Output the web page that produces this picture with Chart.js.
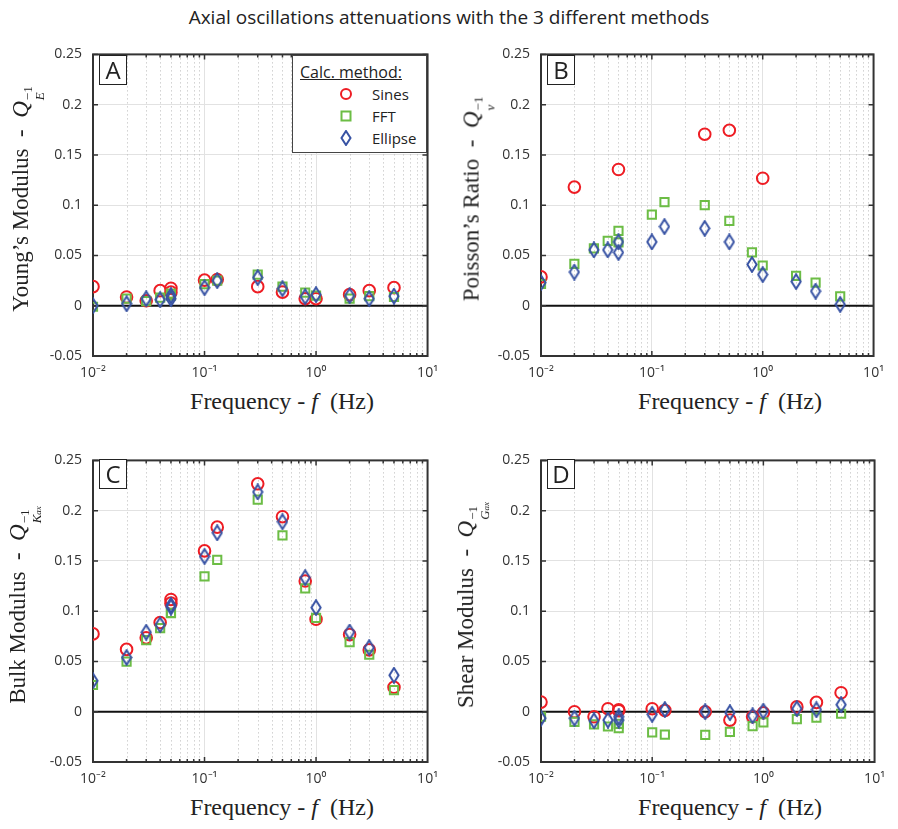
<!DOCTYPE html>
<html lang="en">
<head>
<meta charset="UTF-8">
<title>Axial oscillations attenuations</title>
<script src="https://cdn.jsdelivr.net/npm/chart.js"></script>
<style>
  body { margin: 0; background: #fff; }
  #fig { position: relative; width: 898px; height: 829px; overflow: hidden; font-family: "Open Sans", sans-serif; color: #222; }
  .pane { position: absolute; }
  .title { position: absolute; left: 0; width: 898px; top: 4px; text-align: center; font-size: 19px; }
  .ylab, .xlab { position: absolute; font-family: "Liberation Serif", "Times New Roman", serif; font-size: 23px; white-space: nowrap; line-height: 1; color: #222; }
  .ylab { transform: translate(-50%, -50%) rotate(-90deg); }
  .xlab { transform: translate(-50%, -50%); font-size: 24px; }
  .ss { display: inline-flex; flex-direction: column; font-size: 13px; line-height: 12px; vertical-align: -0.3em; margin-left: 1px; }
  .ss small { font-size: 9px; }
  .tag { position: absolute; width: 26px; height: 28px; border: 1.5px solid #222; background: #fff; font-size: 24px; line-height: 28px; text-align: center; }
  .legend { position: absolute; left: 292px; top: 55px; width: 133px; height: 96px; border: 1.5px solid #444; background: #fff; font-size: 15px; }
  .legend .hd { position: absolute; left: 7px; top: 5px; font-size: 16px; text-decoration: underline; }
  .legend .row { position: absolute; left: 46px; height: 20px; line-height: 20px; }
  .legend svg { position: absolute; left: 0; top: 3px; }
  .legend span { position: absolute; left: 33px; }
</style>
</head>
<body>
<div id="fig">
  <div class="title">Axial oscillations attenuations with the 3 different methods</div>

  <div class="pane" id="pA"><canvas id="cA"></canvas></div>
  <div class="pane" id="pB"><canvas id="cB"></canvas></div>
  <div class="pane" id="pC"><canvas id="cC"></canvas></div>
  <div class="pane" id="pD"><canvas id="cD"></canvas></div>

  <div class="ylab" style="left:27px; top:199px;">Young’s Modulus &nbsp;-&nbsp; <i>Q</i><span class="ss"><span>−1</span><i>E</i></span></div>
  <div class="ylab" style="left:478px; top:199px;">Poisson’s Ratio &nbsp;-&nbsp; <i>Q</i><span class="ss"><span>−1</span><i>ν</i></span></div>
  <div class="ylab" style="left:25px; top:605px;">Bulk Modulus &nbsp;-&nbsp; <i>Q</i><span class="ss"><span>−1</span><span><i>K</i><small><i>ax</i></small></span></span></div>
  <div class="ylab" style="left:473px; top:605px;">Shear Modulus &nbsp;-&nbsp; <i>Q</i><span class="ss"><span>−1</span><span><i>G</i><small><i>ax</i></small></span></span></div>

  <div class="xlab" style="left:282px; top:401px;">Frequency - <i>f</i>&nbsp; (Hz)</div>
  <div class="xlab" style="left:730px; top:401px;">Frequency - <i>f</i>&nbsp; (Hz)</div>
  <div class="xlab" style="left:282px; top:807px;">Frequency - <i>f</i>&nbsp; (Hz)</div>
  <div class="xlab" style="left:730px; top:807px;">Frequency - <i>f</i>&nbsp; (Hz)</div>

  <div class="tag" style="left:99px; top:55px;">A</div>
  <div class="tag" style="left:547px; top:55px;">B</div>
  <div class="tag" style="left:99px; top:459px;">C</div>
  <div class="tag" style="left:547px; top:459px;">D</div>

  <div class="legend">
    <div class="hd">Calc. method:</div>
    <div class="row" style="top:28px;"><svg width="14" height="14"><circle cx="7" cy="7" r="5" fill="none" stroke="#ee1d24" stroke-width="2"/></svg><span>Sines</span></div>
    <div class="row" style="top:50px;"><svg width="14" height="14"><rect x="2.5" y="2.5" width="9" height="9" fill="none" stroke="#6cbd45" stroke-width="2"/></svg><span>FFT</span></div>
    <div class="row" style="top:72px;"><svg width="14" height="16" style="top:2px"><path d="M7 1 L11.5 8 L7 15 L2.5 8 Z" fill="none" stroke="#3853a4" stroke-width="2"/></svg><span>Ellipse</span></div>
  </div>
</div>

<script>
// frequencies (Hz) - 0.05 Hz was measured twice
const freq = [0.01, 0.02, 0.03, 0.04, 0.05, 0.05, 0.1, 0.13, 0.3, 0.5, 0.8, 1, 2, 3, 5];

// A - Young's modulus
const sinesE = [0.019, 0.0087, 0.005, 0.015, 0.0174, 0.0135, 0.0255, 0.026, 0.019, 0.0135, 0.007, 0.007, 0.011, 0.015, 0.018];
const fftE   = [-0.001, 0.007, 0.0045, 0.008, 0.010, 0.012, 0.0215, 0.025, 0.031, 0.019, 0.013, 0.010, 0.007, 0.0095, 0.0087];
const ellE   = [0, 0.002, 0.007, 0.006, 0.007, 0.010, 0.018, 0.025, 0.028, 0.017, 0.009, 0.011, 0.010, 0.007, 0.0095];

// B - Poisson's ratio (Sines missing at several frequencies)
const sinesNu = [0.0287, 0.118, null, null, 0.1355, null, null, null, 0.1706, 0.1745, null, 0.1268, null, null, null];
const fftNu   = [0.0216, 0.0416, 0.057, 0.0645, 0.0745, 0.063, 0.0906, 0.103, 0.100, 0.0845, 0.053, 0.040, 0.0297, 0.023, 0.0094];
const ellNu   = [0.023, 0.0335, 0.0555, 0.0555, 0.0635, 0.053, 0.0635, 0.0787, 0.077, 0.0635, 0.041, 0.031, 0.024, 0.0145, 0.0013];

// C - Bulk modulus
const sinesK = [0.0774, 0.062, 0.0735, 0.0887, 0.1117, 0.108, 0.16, 0.1836, 0.2267, 0.194, 0.130, 0.092, 0.0767, 0.0615, 0.0243];
const fftK   = [0.0266, 0.0499, 0.0712, 0.0832, 0.0984, 0.098, 0.1347, 0.151, 0.211, 0.1755, 0.1227, 0.0933, 0.0693, 0.0567, 0.0214];
const ellK   = [0.0308, 0.054, 0.079, 0.0865, 0.106, 0.104, 0.1545, 0.178, 0.2186, 0.189, 0.1334, 0.1036, 0.0793, 0.0638, 0.0363];

// D - Shear modulus
const sinesG = [0.0096, 0, -0.005, 0.003, 0.002, 0.001, 0.003, 0.0013, 0, -0.0083, -0.005, -0.001, 0.0048, 0.0093, 0.0189];
const fftG   = [-0.005, -0.01, -0.0125, -0.0147, -0.0163, -0.012, -0.0205, -0.0228, -0.023, -0.020, -0.0144, -0.0106, -0.0074, -0.0058, -0.002];
const ellG   = [-0.0064, -0.0064, -0.009, -0.0083, -0.0083, -0.005, -0.0026, 0.0022, 0, -0.001, -0.004, 0.0006, 0.003, 0.002, 0.007];

const xTickLabels = ['10⁻²', '10⁻¹', '10⁰', '10¹'];
const yTicks = [-0.05, 0, 0.05, 0.1, 0.15, 0.2, 0.25];

const RED = '#ee1d24', GREEN = '#6cbd45', BLUE = '#3853a4';

// narrow MATLAB-like diamond marker
const diamond = document.createElement('canvas');
diamond.width = 12; diamond.height = 17;
(function () {
  const g = diamond.getContext('2d');
  g.strokeStyle = BLUE; g.lineWidth = 2; g.lineJoin = 'miter';
  g.beginPath();
  g.moveTo(6, 1.2); g.lineTo(10.6, 8.5); g.lineTo(6, 15.8); g.lineTo(1.4, 8.5); g.closePath();
  g.stroke();
})();

function toPoints(vals) {
  const pts = [];
  vals.forEach((v, i) => { if (v !== null) pts.push({x: freq[i], y: v}); });
  return pts;
}

function decade(v) {
  const l = Math.log10(v);
  return Math.abs(l - Math.round(l)) < 1e-6;
}

// minor grid, zero line, box and inward ticks
const framePlugin = {
  id: 'frame',
  beforeDatasetsDraw(chart) {
    const {ctx, chartArea: a, scales: {x, y}} = chart;
    ctx.save();
    // dotted minor lines
    ctx.strokeStyle = '#b8b8b8';
    ctx.lineWidth = 1;
    ctx.setLineDash([1, 3]);
    for (let e = -2; e < 1; e++) {
      for (let k = 2; k <= 9; k++) {
        const px = Math.round(x.getPixelForValue(k * Math.pow(10, e))) + 0.5;
        ctx.beginPath(); ctx.moveTo(px, a.top); ctx.lineTo(px, a.bottom); ctx.stroke();
      }
    }
    ctx.setLineDash([]);
    // zero line
    const y0 = y.getPixelForValue(0);
    ctx.strokeStyle = '#111';
    ctx.lineWidth = 2;
    ctx.beginPath(); ctx.moveTo(a.left, y0); ctx.lineTo(a.right, y0); ctx.stroke();
    // ticks
    ctx.strokeStyle = '#333';
    ctx.lineWidth = 1.5;
    yTicks.forEach(v => {
      const py = y.getPixelForValue(v);
      ctx.beginPath();
      ctx.moveTo(a.left, py); ctx.lineTo(a.left + 5, py);
      ctx.moveTo(a.right, py); ctx.lineTo(a.right - 5, py);
      ctx.stroke();
    });
    for (let e = -2; e < 1; e++) {
      for (let k = 1; k <= 9; k++) {
        const px = x.getPixelForValue(k * Math.pow(10, e));
        const len = k === 1 ? 5 : 3;
        ctx.beginPath();
        ctx.moveTo(px, a.bottom); ctx.lineTo(px, a.bottom - len);
        ctx.moveTo(px, a.top); ctx.lineTo(px, a.top + len);
        ctx.stroke();
      }
    }
    // box
    ctx.strokeStyle = '#333';
    ctx.lineWidth = 2;
    ctx.strokeRect(a.left, a.top, a.right - a.left, a.bottom - a.top);
    ctx.restore();
  }
};

function makeChart(id, paneId, L, T, R, B, sines, fft, ell) {
  const padL = 60, padT = 12, padR = 14, padB = 30;
  const pane = document.getElementById(paneId);
  const w = R - L + padL + padR, h = B - T + padT + padB;
  pane.style.left = (L - padL) + 'px';
  pane.style.top = (T - padT) + 'px';
  pane.style.width = w + 'px';
  pane.style.height = h + 'px';

  return new Chart(document.getElementById(id), {
    type: 'scatter',
    data: {
      datasets: [
        { label: 'Sines', data: toPoints(sines), order: 3, pointStyle: 'circle', pointRadius: 5.8,
          borderColor: RED, backgroundColor: 'rgba(0,0,0,0)', borderWidth: 2 },
        { label: 'FFT', data: toPoints(fft), order: 2, pointStyle: 'rect', pointRadius: 5.8,
          borderColor: GREEN, backgroundColor: 'rgba(0,0,0,0)', borderWidth: 2 },
        { label: 'Ellipse', data: toPoints(ell), order: 1, pointStyle: diamond, pointRadius: 6,
          borderColor: BLUE, backgroundColor: 'rgba(0,0,0,0)' }
      ]
    },
    options: {
      responsive: true,
      maintainAspectRatio: false,
      animation: false,
      events: [],
      layout: { padding: { left: 0, top: padT, right: padR, bottom: 0 } },
      plugins: { legend: { display: false }, tooltip: { enabled: false } },
      scales: {
        x: {
          type: 'logarithmic',
          min: 0.01,
          max: 10,
          afterFit(scale) { scale.height = padB; },
          border: { display: false },
          grid: {
            drawTicks: false,
            color: ctx => (ctx.tick && decade(ctx.tick.value)) ? '#e2e2e2' : 'rgba(0,0,0,0)'
          },
          ticks: {
            autoSkip: false,
            maxRotation: 0,
            padding: 9,
            color: '#333',
            font: { family: 'Open Sans', size: 14 },
            callback(v) {
              if (!decade(v)) return '';
              return xTickLabels[Math.round(Math.log10(v)) + 2];
            }
          }
        },
        y: {
          min: -0.05,
          max: 0.25,
          afterFit(scale) { scale.width = padL; },
          afterBuildTicks(scale) { scale.ticks = yTicks.map(v => ({value: v})); },
          border: { display: false },
          grid: { drawTicks: false, color: '#e2e2e2' },
          ticks: {
            padding: 11,
            color: '#333',
            font: { family: 'Open Sans', size: 14 },
            callback: v => String(+v.toFixed(2))
          }
        }
      }
    },
    plugins: [framePlugin]
  });
}

makeChart('cA', 'pA', 93, 47, 433, 356, sinesE, fftE, ellE);
makeChart('cB', 'pB', 541, 47, 879, 356, sinesNu, fftNu, ellNu);
makeChart('cC', 'pC', 93, 453, 433, 762, sinesK, fftK, ellK);
makeChart('cD', 'pD', 541, 453, 880, 762, sinesG, fftG, ellG);
</script>
</body>
</html>
